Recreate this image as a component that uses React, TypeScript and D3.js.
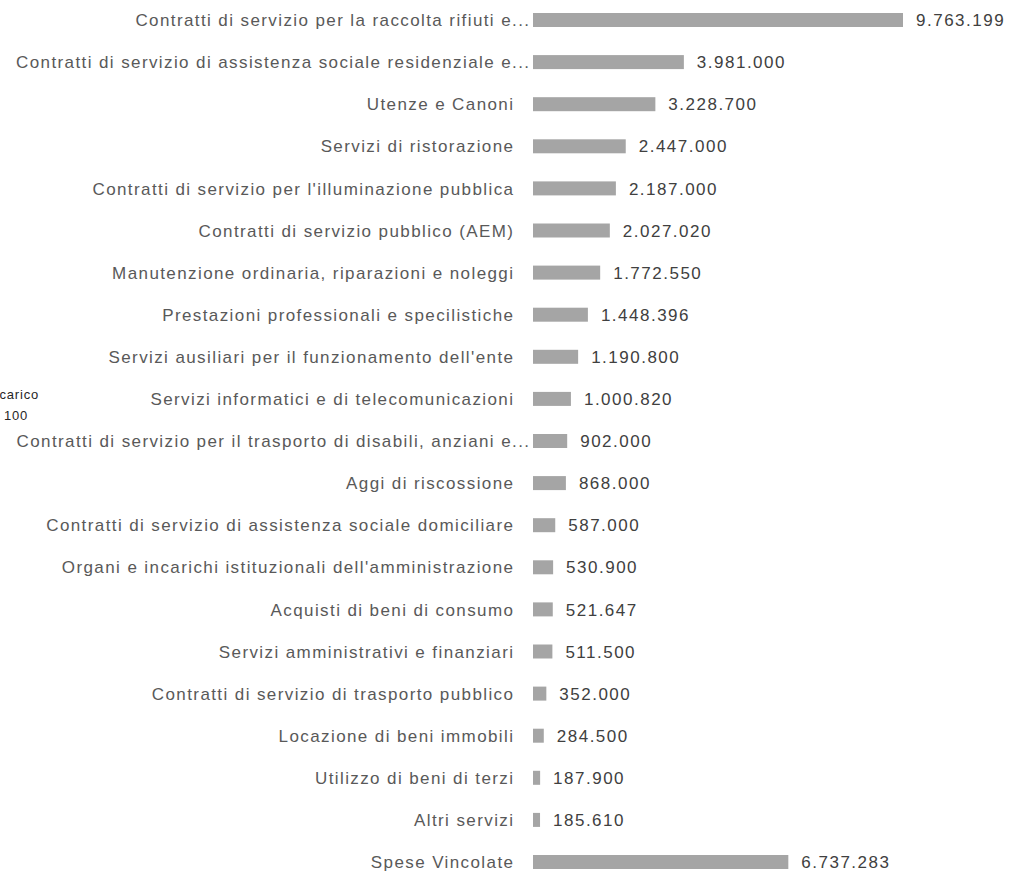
import React from "react";
import * as d3 from "d3";

const categories: string[] = [
  "Contratti di servizio per la raccolta rifiuti e...",
  "Contratti di servizio di assistenza sociale residenziale e...",
  "Utenze e Canoni",
  "Servizi di ristorazione",
  "Contratti di servizio per l'illuminazione pubblica",
  "Contratti di servizio pubblico (AEM)",
  "Manutenzione ordinaria, riparazioni e noleggi",
  "Prestazioni professionali e specilistiche",
  "Servizi ausiliari per il funzionamento dell'ente",
  "Servizi informatici e di telecomunicazioni",
  "Contratti di servizio per il trasporto di disabili, anziani e...",
  "Aggi di riscossione",
  "Contratti di servizio di assistenza sociale domiciliare",
  "Organi e incarichi istituzionali dell'amministrazione",
  "Acquisti di beni di consumo",
  "Servizi amministrativi e finanziari",
  "Contratti di servizio di trasporto pubblico",
  "Locazione di beni immobili",
  "Utilizzo di beni di terzi",
  "Altri servizi",
  "Spese Vincolate",
];

const values: number[] = [
  9763199, 3981000, 3228700, 2447000, 2187000, 2027020, 1772550, 1448396,
  1190800, 1000820, 902000, 868000, 587000, 530900, 521647, 511500, 352000,
  284500, 187900, 185610, 6737283,
];

const clippedLegend: string[] = ["carico", "100"];

const fmt = (v: number) =>
  Math.round(v)
    .toString()
    .replace(/\B(?=(\d{3})+(?!\d))/g, ".");

export default function App() {
  const W = 1011;
  const H = 873;
  const x = d3.scaleLinear().domain([0, 9763199]).range([533, 903]);
  const y = d3.scalePoint<string>().domain(categories).range([20, 862]);
  const barH = 14;
  const font = "'Liberation Sans', Arial, sans-serif";
  const ls = 1.4;

  return (
    <svg
      width={W}
      height={H}
      style={{ position: "fixed", left: 0, top: 0, background: "#fff" }}
    >
      <rect x={0} y={0} width={W} height={H} fill="#fff" />
      {categories.map((c, i) => {
        const cy = y(c) as number;
        const truncated = c.endsWith("...");
        return (
          <g key={c}>
            <text
              x={(truncated ? 529 : 513) + ls}
              y={cy}
              dy="0.36em"
              textAnchor="end"
              fontFamily={font}
              fontSize={17}
              letterSpacing={ls}
              fill="#595959"
            >
              {c}
            </text>
            <rect
              x={x(0)}
              y={cy - barH / 2}
              width={x(values[i]) - x(0)}
              height={barH}
              fill="#a5a5a5"
            />
            <text
              x={x(values[i]) + 13}
              y={cy}
              dy="0.36em"
              fontFamily={font}
              fontSize={17}
              letterSpacing={1.5}
              fill="#404040"
            >
              {fmt(values[i])}
            </text>
          </g>
        );
      })}
      <text x={39} y={399} textAnchor="end" fontFamily={font} fontSize={13} letterSpacing={0.8} fill="#262626">
        {clippedLegend[0]}
      </text>
      <text x={28} y={420} textAnchor="end" fontFamily={font} fontSize={13} letterSpacing={0.8} fill="#262626">
        {clippedLegend[1]}
      </text>
    </svg>
  );
}
